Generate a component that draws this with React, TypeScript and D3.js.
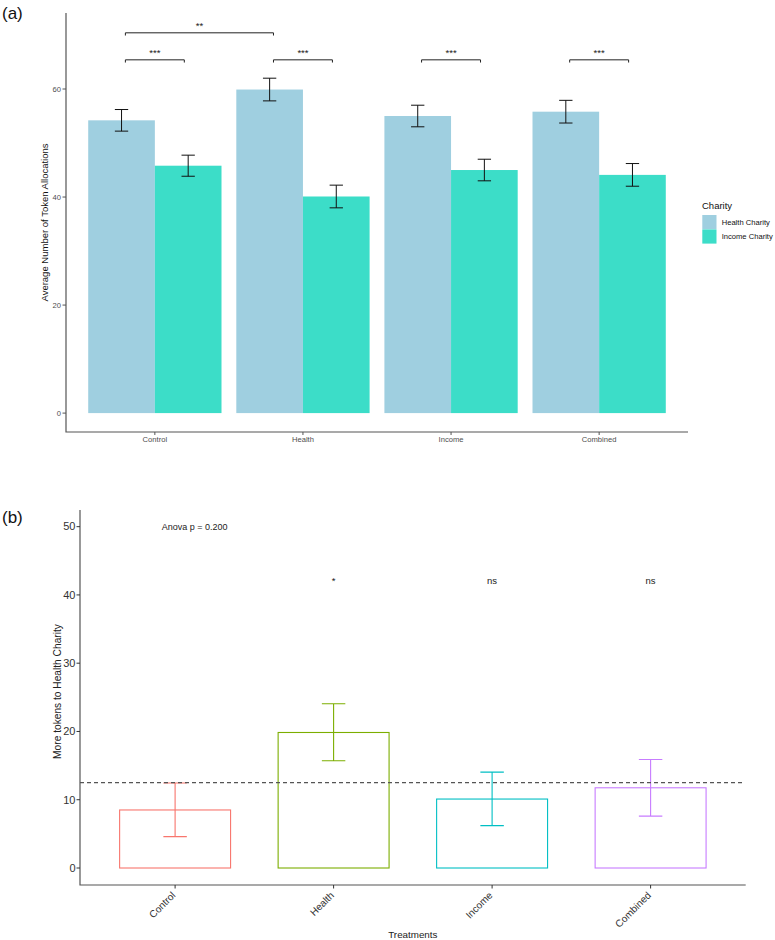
import React from "react";
import * as d3 from "d3";

// ---- data ----
const treatments = ["Control", "Health", "Income", "Combined"];
const charities = ["Health Charity", "Income Charity"];
const healthMeans = [54.2, 59.9, 55.0, 55.8];
const healthErr = [2.0, 2.1, 2.0, 2.1];
const incomeMeans = [45.8, 40.1, 45.0, 44.1];
const incomeErr = [1.95, 2.1, 2.0, 2.1];
const ticksA = [0, 20, 40, 60];
const withinLabel = "***";
const withinY = 65.4;
const crossLabel = "**";
const crossY = 70.4;

const diffMeans = [8.5, 19.85, 10.1, 11.75];
const diffLow = [4.6, 15.7, 6.2, 7.6];
const diffHigh = [12.45, 24.05, 14.05, 15.9];
const diffColors = ["#F8766D", "#7CAE00", "#00BFC4", "#C77CFF"];
const sigLabels = ["", "*", "ns", "ns"];
const sigY = 41.6;
const refLine = 12.5;
const anovaLabel = "Anova p = 0.200";
const anovaY = 49.5;
const ticksB = [0, 10, 20, 30, 40, 50];

const charityColors = ["#9FCFE0", "#3CDDC8"];
const FONT = "'Liberation Sans', Arial, Helvetica, sans-serif";

function PanelA() {
  const left = 66, right = 688, top = 13, bottom = 432;
  const x = d3.scaleBand().domain(treatments).range([left, right]).paddingInner(0).paddingOuter(0.1);
  const step = x.step();
  const y = d3.scaleLinear().domain([-3.5, 74.07]).range([bottom, top]);
  const dodge = d3.scaleBand().domain(charities).range([-0.45 * step, 0.45 * step]);
  const cx = (t: string) => (x(t) as number) + x.bandwidth() / 2;
  const bw = dodge.bandwidth();
  const center = (t: string, c: string) => cx(t) + (dodge(c) as number) + bw / 2;
  const inset = 0.026 * step;
  const tip = 0.5;
  const series = [
    { c: charities[0], m: healthMeans, e: healthErr },
    { c: charities[1], m: incomeMeans, e: incomeErr },
  ];
  const bracket = (x1: number, x2: number, yv: number, label: string, key: string) => (
    <g key={key}>
      <path
        d={`M${x1},${y(yv - tip)}V${y(yv)}H${x2}V${y(yv - tip)}`}
        fill="none"
        stroke="#222"
        strokeWidth={1}
      />
      <text x={(x1 + x2) / 2} y={y(yv) - 4} textAnchor="middle" fontSize={9.5} fill="#222">
        {label}
      </text>
    </g>
  );
  return (
    <g fontFamily={FONT}>
      <text x={2} y={19} fontSize={17} fill="#111">(a)</text>
      {series.map((s, si) =>
        treatments.map((t, i) => (
          <rect
            key={`b${si}${i}`}
            x={cx(t) + (dodge(s.c) as number)}
            y={y(s.m[i])}
            width={bw}
            height={y(0) - y(s.m[i])}
            fill={charityColors[si]}
          />
        ))
      )}
      {series.map((s, si) =>
        treatments.map((t, i) => {
          const xc = center(t, s.c);
          const hw = bw * 0.1;
          return (
            <path
              key={`e${si}${i}`}
              d={`M${xc - hw},${y(s.m[i] + s.e[i])}H${xc + hw}M${xc},${y(s.m[i] + s.e[i])}V${y(s.m[i] - s.e[i])}M${xc - hw},${y(s.m[i] - s.e[i])}H${xc + hw}`}
              stroke="#111"
              strokeWidth={1}
              fill="none"
            />
          );
        })
      )}
      {treatments.map((t) =>
        bracket(center(t, charities[0]) + inset, center(t, charities[1]) - inset, withinY, withinLabel, `w${t}`)
      )}
      {bracket(
        center(treatments[0], charities[0]) + inset,
        center(treatments[1], charities[0]) + inset,
        crossY,
        crossLabel,
        "cross"
      )}
      {/* axes */}
      <path d={`M${left},${top}V${bottom}H${right}`} fill="none" stroke="#555" strokeWidth={1.2} />
      {ticksA.map((v) => (
        <g key={`ty${v}`}>
          <line x1={left - 3.5} x2={left} y1={y(v)} y2={y(v)} stroke="#555" strokeWidth={1} />
          <text x={left - 5} y={y(v) + 2.7} textAnchor="end" fontSize={7.6} fill="#4D4D4D">{v}</text>
        </g>
      ))}
      {treatments.map((t) => (
        <g key={`tx${t}`}>
          <line x1={cx(t)} x2={cx(t)} y1={bottom} y2={bottom + 3} stroke="#555" strokeWidth={1} />
          <text x={cx(t)} y={bottom + 10} textAnchor="middle" fontSize={7.6} fill="#4D4D4D">{t}</text>
        </g>
      ))}
      <text
        transform={`translate(${48},${(top + bottom) / 2}) rotate(-90)`}
        textAnchor="middle"
        fontSize={9.5}
        fill="#111"
      >
        Average Number of Token Allocations
      </text>
      {/* legend */}
      <text x={702} y={209} fontSize={9.5} fill="#111">Charity</text>
      {charities.map((c, i) => (
        <g key={`lg${c}`}>
          <rect x={702.3} y={215 + i * 14.4} width={14.2} height={14.2} fill={charityColors[i]} />
          <text x={721.7} y={215 + i * 14.4 + 9.8} fontSize={7.6} fill="#111">{c}</text>
        </g>
      ))}
    </g>
  );
}

function PanelB() {
  const left = 80, right = 745.7, top = 510, bottom = 885;
  const x = d3.scaleBand().domain(treatments).range([left, right]).paddingInner(0).paddingOuter(0.1);
  const step = x.step();
  const y = d3.scaleLinear().domain([-2.49, 52.44]).range([bottom, top]);
  const cx = (t: string) => (x(t) as number) + x.bandwidth() / 2;
  const barW = 0.7 * step;
  const capW = 0.074 * step;
  return (
    <g fontFamily={FONT}>
      <text x={2} y={523} fontSize={17} fill="#111">(b)</text>
      {treatments.map((t, i) => (
        <rect
          key={`bb${t}`}
          x={cx(t) - barW / 2}
          y={y(diffMeans[i])}
          width={barW}
          height={y(0) - y(diffMeans[i])}
          fill="none"
          stroke={diffColors[i]}
          strokeWidth={1.1}
        />
      ))}
      {treatments.map((t, i) => {
        const xc = cx(t);
        return (
          <path
            key={`eb${t}`}
            d={`M${xc - capW},${y(diffHigh[i])}H${xc + capW}M${xc},${y(diffHigh[i])}V${y(diffLow[i])}M${xc - capW},${y(diffLow[i])}H${xc + capW}`}
            stroke={diffColors[i]}
            strokeWidth={1.1}
            fill="none"
          />
        );
      })}
      <line
        x1={left}
        x2={right - 3}
        y1={y(refLine)}
        y2={y(refLine)}
        stroke="#555"
        strokeWidth={1.1}
        strokeDasharray="4 3"
      />
      {treatments.map((t, i) =>
        sigLabels[i] ? (
          <text key={`sg${t}`} x={cx(t)} y={y(sigY)} textAnchor="middle" fontSize={9.5} fill="#222">
            {sigLabels[i]}
          </text>
        ) : null
      )}
      <text x={cx(treatments[0]) - 0.085 * step} y={y(anovaY)} fontSize={9} fill="#222">
        {anovaLabel}
      </text>
      {/* axes */}
      <path d={`M${left},${top}V${bottom}H${right}`} fill="none" stroke="#555" strokeWidth={1.2} />
      {ticksB.map((v) => (
        <g key={`tyb${v}`}>
          <line x1={left - 3.5} x2={left} y1={y(v)} y2={y(v)} stroke="#333" strokeWidth={1} />
          <text x={left - 4.5} y={y(v) + 3.8} textAnchor="end" fontSize={11} fill="#333">{v}</text>
        </g>
      ))}
      {treatments.map((t) => (
        <g key={`txb${t}`}>
          <line x1={cx(t)} x2={cx(t)} y1={bottom} y2={bottom + 3.5} stroke="#333" strokeWidth={1} />
          <text
            transform={`translate(${cx(t) + 1},${bottom + 11}) rotate(-45)`}
            textAnchor="end"
            fontSize={10}
            fill="#333"
          >
            {t}
          </text>
        </g>
      ))}
      <text
        transform={`translate(${61},${(top + bottom) / 2 - 6}) rotate(-90)`}
        textAnchor="middle"
        fontSize={10.2}
        fill="#222"
      >
        More tokens to Health Charity
      </text>
      <text x={(left + right) / 2} y={937.5} textAnchor="middle" fontSize={9.8} fill="#222">
        Treatments
      </text>
    </g>
  );
}

export default function App() {
  return (
    <div style={{ position: "absolute", left: 0, top: 0, width: 775, height: 940, background: "#fff" }}>
      <svg width={775} height={940} viewBox="0 0 775 940">
        <rect width={775} height={940} fill="#fff" />
        <PanelA />
        <PanelB />
      </svg>
    </div>
  );
}
